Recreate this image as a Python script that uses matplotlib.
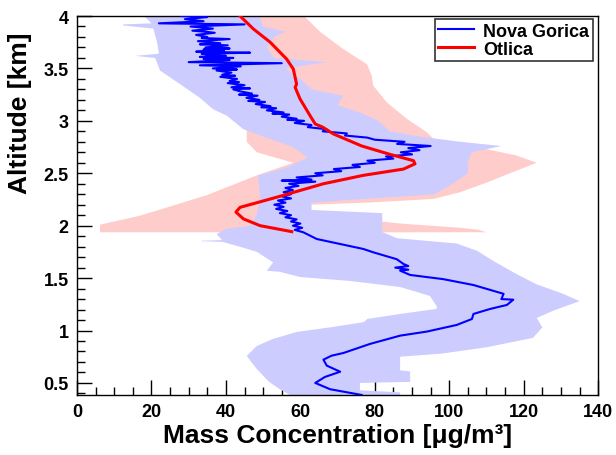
import numpy as np
import matplotlib.pyplot as plt
from matplotlib.ticker import MultipleLocator, FormatStrFormatter

plt.rcParams['font.family'] = ['Liberation Sans', 'DejaVu Sans']
plt.rcParams['font.weight'] = 'bold'

# Nova Gorica mean profile (altitude km, concentration ug/m3)
ng_alt = [0.385, 0.44, 0.50, 0.557, 0.607, 0.665, 0.722, 0.76, 0.786, 0.872,
          0.951, 0.99, 1.053, 1.11, 1.158, 1.206, 1.244, 1.294, 1.30, 1.307,
          1.35, 1.434, 1.49, 1.53, 1.571, 1.58, 1.60, 1.615, 1.635, 1.68,
          1.746, 1.778, 1.825, 1.873, 1.937,
          1.96, 1.98, 2.00, 2.02, 2.04, 2.06, 2.08, 2.10, 2.12, 2.14,
          2.16, 2.18, 2.20, 2.22, 2.24, 2.26, 2.28, 2.30, 2.32, 2.34,
          2.36, 2.38, 2.40, 2.42, 2.43, 2.44, 2.46, 2.48, 2.50, 2.52,
          2.54, 2.56, 2.58, 2.60, 2.62, 2.64, 2.66, 2.68, 2.70, 2.72,
          2.74, 2.76, 2.78, 2.80, 2.82, 2.84, 2.86, 2.88, 2.90, 2.92,
          2.94, 2.96, 2.98, 3.00, 3.01, 3.02, 3.04, 3.06, 3.07, 3.08,
          3.10, 3.12, 3.13, 3.14, 3.16, 3.18, 3.19, 3.20, 3.22, 3.24,
          3.25, 3.26, 3.28, 3.30, 3.31, 3.32, 3.34, 3.36, 3.37, 3.38,
          3.40, 3.42, 3.43, 3.44, 3.46, 3.48, 3.49, 3.50, 3.52, 3.53,
          3.55, 3.56, 3.58, 3.59, 3.60, 3.61, 3.62, 3.63, 3.64, 3.65,
          3.66, 3.67, 3.68, 3.69, 3.70, 3.72, 3.73, 3.74, 3.76, 3.78,
          3.79, 3.80, 3.82, 3.84, 3.85, 3.86, 3.88, 3.90, 3.92, 3.93,
          3.95, 3.97, 3.99, 4.00]
ng_conc = [76.5, 68.0, 64.0, 66.6, 70.7, 67.1, 66.2, 68.4, 71.6, 78.7,
           86.8, 94.0, 102.0, 106.1, 106.5, 111.0, 115.5, 117.2, 114.0, 114.1,
           114.6, 106.5, 98.4, 89.5, 86.8, 89.0, 85.5, 89.0, 87.7, 85.9,
           79.6, 76.9, 70.7, 64.4, 60.8,
           58.5, 60.5, 58.0, 60.0, 57.5, 59.0, 56.0, 57.5, 54.5, 56.5,
           53.5, 55.5, 53.0, 56.0, 54.0, 57.5, 55.0, 57.5, 55.5, 58.0,
           56.0, 59.5, 57.0, 64.0, 55.0, 63.0, 59.0, 66.0, 64.0, 71.0,
           69.0, 76.0, 74.0, 80.0, 78.0, 85.0, 83.0, 90.0, 87.0, 92.0,
           89.0, 95.0, 86.0, 88.0, 80.0, 78.0, 72.0, 72.5, 66.0, 67.0,
           62.0, 63.0, 58.5, 61.0, 56.5, 59.0, 55.0, 57.0, 52.5, 55.5,
           51.0, 53.5, 49.5, 52.0, 48.0, 50.5, 46.0, 49.0, 45.5, 48.5,
           43.5, 47.0, 44.0, 42.0, 46.5, 41.5, 45.0, 40.5, 43.5, 41.0,
           43.0, 38.5, 42.5, 39.0, 41.5, 37.5, 43.0, 36.5, 44.0, 33.0,
           55.0, 30.0, 41.0, 34.0, 42.0, 33.0, 40.0, 35.0, 33.5, 46.5,
           32.0, 39.5, 34.0, 41.0, 34.5, 40.5, 33.0, 38.5, 32.5, 41.0,
           33.5, 35.0, 32.0, 37.0, 34.5, 31.0, 36.5, 30.5, 45.0, 22.0,
           34.0, 29.0, 35.0, 28.0]

# Nova Gorica uncertainty band edges
ng_lo_alt = [0.385, 0.44, 0.51, 0.633, 0.757, 0.853, 0.92, 0.986, 1.034, 1.08,
             1.11, 1.158, 1.206, 1.234, 1.33, 1.415, 1.473, 1.51, 1.56, 1.57,
             1.65, 1.75, 1.78, 1.845, 1.852, 1.857, 1.862, 1.92, 1.97, 2.0,
             2.1, 2.29, 2.48, 2.55, 2.65, 2.75, 2.85, 2.92, 3.05, 3.11,
             3.22, 3.35, 3.48, 3.60, 3.62, 3.64, 3.75, 3.88, 3.91, 3.92,
             3.93, 4.0]
ng_lo = [57.2, 54.5, 51.6, 48.3, 45.6, 48.3, 52.7, 59.0, 68.8, 77.0,
         78.0, 86.8, 96.6, 96.6, 94.8, 86.8, 73.3, 60.0, 54.5, 51.0,
         52.7, 48.3, 45.6, 39.2, 33.5, 33.5, 39.0, 37.5, 40.2, 46.5,
         48.3, 49.2, 48.6, 56.0, 62.0, 58.0, 50.0, 44.7, 40.2, 36.6,
         33.0, 27.7, 22.3, 21.0, 15.6, 22.0, 21.5, 20.5, 12.4, 12.4,
         20.0, 18.0]
ng_hi_alt = [0.385, 0.41, 0.43, 0.50, 0.51, 0.61, 0.62, 0.75, 0.78, 0.84,
             0.93, 1.03, 1.12, 1.19, 1.28, 1.35, 1.44, 1.54, 1.66, 1.76,
             1.83, 1.88, 1.94, 2.12, 2.15, 2.22, 2.25, 2.30, 2.40, 2.50,
             2.60, 2.70, 2.76, 2.80, 2.85, 2.90, 3.00, 3.08, 3.15, 3.24,
             3.30, 3.40, 3.50, 3.56, 3.60, 3.70, 3.80, 3.85, 3.90, 4.0]
ng_hi = [86.8, 86.8, 76.0, 76.0, 89.5, 89.5, 86.8, 86.8, 98.0, 110.0,
         122.5, 125.0, 123.5, 128.0, 135.0, 130.6, 123.5, 118.0, 112.0, 107.5,
         102.0, 86.0, 82.0, 82.0, 63.0, 63.0, 75.0, 96.0, 101.0, 105.0,
         105.0, 106.0, 114.0, 103.0, 92.0, 84.0, 81.0, 76.0, 70.0, 71.5,
         63.0, 60.0, 56.0, 67.0, 53.0, 51.0, 53.0, 56.0, 50.0, 49.0]

# Otlica mean profile
ot_alt = [1.943, 2.0, 2.065, 2.13, 2.175, 2.27, 2.40, 2.48, 2.54, 2.59,
          2.62, 2.68, 2.76, 2.875, 2.94, 2.97, 3.05, 3.21, 3.32, 3.35,
          3.495, 3.59, 3.75, 3.876, 4.0]
ot_conc = [57.7, 49.2, 44.7, 42.7, 43.8, 53.5, 66.2, 76.9, 87.7, 90.8,
           90.4, 84.1, 76.5, 68.9, 66.0, 64.0, 62.6, 59.9, 58.6, 59.0,
           58.1, 56.3, 51.9, 47.4, 43.8]

# Otlica uncertainty band edges
ot_lo_alt = [1.937, 2.01, 2.095, 2.29, 2.48, 2.60, 2.70, 2.80, 2.92, 3.05,
             3.3, 3.6, 4.0]
ot_lo = [6.2, 6.2, 16.9, 34.8, 48.3, 58.1, 48.3, 45.6, 45.6, 46.0,
         47.0, 46.0, 45.0]
ot_hi_alt = [1.937, 1.96, 1.98, 2.02, 2.07, 2.12, 2.14, 2.20, 2.22, 2.255,
             2.32, 2.41, 2.51, 2.60, 2.67, 2.73, 2.83, 2.89, 3.02, 3.177,
             3.335, 3.43, 3.54, 3.685, 3.85, 4.0]
ot_hi = [110.0, 108.0, 103.0, 87.0, 74.0, 64.0, 62.6, 62.6, 78.0, 95.7,
         103.0, 110.0, 117.0, 123.5, 118.0, 110.0, 95.7, 94.0, 88.6, 83.2,
         79.6, 79.2, 77.9, 71.5, 65.3, 61.0]

fig = plt.figure(figsize=(6.16, 4.56), dpi=100)
ax = fig.add_axes([0.125, 0.1316, 0.846, 0.8311])

ax.fill(ot_lo + ot_hi[::-1], ot_lo_alt + ot_hi_alt[::-1],
        color='#ffcccc', lw=0, zorder=1)
ax.fill(ng_lo + ng_hi[::-1], ng_lo_alt + ng_hi_alt[::-1],
        color='#ccccff', lw=0, zorder=2)
ax.plot(ng_conc, ng_alt, color='#0000ff', lw=1.5, zorder=3, label='Nova Gorica')
ax.plot(ot_conc, ot_alt, color='#ff0000', lw=2.2, zorder=4, label='Otlica')

ax.set_xlim(0, 140)
ax.set_ylim(0.385, 4.0)
ax.xaxis.set_major_locator(MultipleLocator(20))
ax.xaxis.set_minor_locator(MultipleLocator(5))
ax.yaxis.set_major_locator(MultipleLocator(0.5))
ax.yaxis.set_minor_locator(MultipleLocator(0.1))
ax.yaxis.set_major_formatter(FormatStrFormatter('%g'))
ax.tick_params(which='both', direction='in', top=False, right=False,
               labelsize=13, width=1)
ax.tick_params(which='major', length=11, pad=6)
ax.tick_params(which='minor', length=5.5)
for s in ax.spines.values():
    s.set_linewidth(1.0)

ax.set_xlabel('Mass Concentration [μg/m³]', fontsize=19, fontweight='bold', labelpad=2)
ax.set_ylabel('Altitude [km]', fontsize=19, fontweight='bold', loc='top')
ax.yaxis.set_label_coords(-0.086, 0.958)

leg = ax.legend(loc='upper right', bbox_to_anchor=(0.99, 0.992), borderaxespad=0,
                fontsize=13, frameon=True, fancybox=False, handlelength=2.0,
                labelspacing=0.05, borderpad=0.2, handletextpad=0.5)
leg.get_frame().set_edgecolor('black')
leg.get_frame().set_linewidth(1.2)

plt.savefig('out.png', dpi=100)
plt.close()
